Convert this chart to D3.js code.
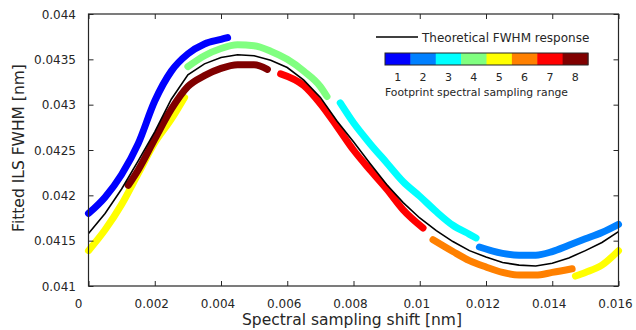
<!DOCTYPE html>
<html>
<head>
<meta charset="utf-8">
<script src="https://cdn.jsdelivr.net/npm/d3@7"></script>
<style>
  body { margin: 0; background: #fff; }
  text { font-family: "DejaVu Sans", sans-serif; fill: #262626; }
</style>
</head>
<body>
<div id="chart"></div>
<script>

// theoretical response (black line)
const theoShift = [0, 0.0005, 0.001, 0.0015, 0.002, 0.0025, 0.003, 0.0035, 0.004, 0.0045, 0.005, 0.0055, 0.006, 0.0065, 0.007, 0.0075, 0.008, 0.0085, 0.009, 0.0095, 0.01, 0.0105, 0.011, 0.0115, 0.012, 0.0125, 0.013, 0.0135, 0.014, 0.0145, 0.015, 0.0155, 0.016];
const theoFwhm = [0.04158, 0.04180, 0.04207, 0.04238, 0.04270, 0.04306, 0.04333, 0.04345, 0.04352, 0.04355, 0.04354, 0.04349, 0.04341, 0.04327, 0.04308, 0.04282, 0.04259, 0.04235, 0.04212, 0.04192, 0.04175, 0.04161, 0.04149, 0.04139, 0.04132, 0.04126, 0.04123, 0.04122, 0.04125, 0.04131, 0.04139, 0.04148, 0.04160];

// fitted FWHM per footprint sampling range
const r1Shift = [0, 0.0005, 0.001, 0.0015, 0.002, 0.0025, 0.003, 0.0035, 0.004, 0.0042];
const r1Fwhm = [0.04180, 0.04198, 0.04223, 0.04257, 0.04304, 0.04337, 0.04356, 0.04367, 0.04372, 0.04374];

const r2Shift = [0.0118, 0.0125, 0.013, 0.0135, 0.014, 0.0145, 0.015, 0.0155, 0.016];
const r2Fwhm = [0.04143, 0.04136, 0.04134, 0.04134, 0.04138, 0.04145, 0.04152, 0.04159, 0.04168];

const r3Shift = [0.0076, 0.008, 0.0085, 0.009, 0.0095, 0.01, 0.0105, 0.011, 0.0115, 0.0117];
const r3Fwhm = [0.04302, 0.04280, 0.04257, 0.04236, 0.04215, 0.04199, 0.04182, 0.04167, 0.04157, 0.04153];

const r4Shift = [0.003, 0.0035, 0.004, 0.0045, 0.005, 0.0055, 0.006, 0.0065, 0.007, 0.0072];
const r4Fwhm = [0.04342, 0.04354, 0.04362, 0.04366, 0.04365, 0.04359, 0.04350, 0.04337, 0.04320, 0.04309];

const r5aShift = [0, 0.0005, 0.001, 0.0015, 0.002, 0.0025, 0.0029];
const r5aFwhm = [0.04139, 0.04162, 0.04190, 0.04224, 0.04258, 0.04284, 0.04308];
const r5bShift = [0.0147, 0.015, 0.0155, 0.016];
const r5bFwhm = [0.04111, 0.04115, 0.04123, 0.04139];

const r6Shift = [0.0104, 0.011, 0.0115, 0.012, 0.0125, 0.013, 0.0135, 0.014, 0.0146];
const r6Fwhm = [0.04151, 0.04138, 0.04128, 0.04121, 0.04115, 0.04112, 0.04112, 0.04115, 0.04119];

const r7Shift = [0.0058, 0.0065, 0.007, 0.0075, 0.008, 0.0085, 0.009, 0.0095, 0.0101];
const r7Fwhm = [0.04334, 0.04321, 0.04301, 0.04276, 0.04250, 0.04228, 0.04207, 0.04184, 0.04164];

const r8Shift = [0.0012, 0.0015, 0.002, 0.0025, 0.003, 0.0035, 0.004, 0.0045, 0.005, 0.0054];
const r8Fwhm = [0.04211, 0.04228, 0.04262, 0.04295, 0.04320, 0.04332, 0.04340, 0.04344, 0.04344, 0.04339];

const rangeLabels = ["1", "2", "3", "4", "5", "6", "7", "8"];
const rangeColors = ["#0000ff", "#0080ff", "#00ffff", "#80ff80", "#ffff00", "#ff8000", "#ff0000", "#800000"];

const xTicks = [0, 0.002, 0.004, 0.006, 0.008, 0.01, 0.012, 0.014, 0.016];
const xTickLabels = ["0", "0.002", "0.004", "0.006", "0.008", "0.01", "0.012", "0.014", "0.016"];
const yTicks = [0.041, 0.0415, 0.042, 0.0425, 0.043, 0.0435, 0.044];
const yTickLabels = ["0.041", "0.0415", "0.042", "0.0425", "0.043", "0.0435", "0.044"];

const w = 636;
const h = 330;
const padL = 88.5, padR = 618.5, padT = 14, padB = 286;

const xScale = d3.scaleLinear().domain([0, 0.016]).range([padL, padR]);
const yScale = d3.scaleLinear().domain([0.041, 0.044]).range([padB, padT]);

const svg = d3.select("#chart")
	.append("svg")
	.attr("width", w)
	.attr("height", h);

const line = d3.line()
	.x(d => xScale(d[0]))
	.y(d => yScale(d[1]));

const smoothLine = d3.line()
	.x(d => xScale(d[0]))
	.y(d => yScale(d[1]))
	.curve(d3.curveMonotoneX);

const segments = [
	[r1Shift, r1Fwhm, 0],
	[r2Shift, r2Fwhm, 1],
	[r3Shift, r3Fwhm, 2],
	[r4Shift, r4Fwhm, 3],
	[r5aShift, r5aFwhm, 4],
	[r5bShift, r5bFwhm, 4],
	[r6Shift, r6Fwhm, 5],
	[r7Shift, r7Fwhm, 6],
	[r8Shift, r8Fwhm, 7]
];

svg.append("g")
	.selectAll("path")
	.data(segments)
	.enter()
	.append("path")
	.attr("d", s => smoothLine(d3.zip(s[0], s[1])))
	.attr("fill", "none")
	.attr("stroke", s => rangeColors[s[2]])
	.attr("stroke-width", 7)
	.attr("stroke-linecap", "round")
	.attr("stroke-linejoin", "round");

svg.append("path")
	.attr("d", line(d3.zip(theoShift, theoFwhm)))
	.attr("fill", "none")
	.attr("stroke", "#000")
	.attr("stroke-width", 1.6);

// Axes (box with inward ticks)

const tickLen = 5;
const axisColor = "#262626";

const bottomAxis = svg.append("g")
	.attr("transform", `translate(0, ${padB})`)
	.call(d3.axisBottom(xScale).tickValues(xTicks).tickSize(-tickLen).tickFormat(""));
const topAxis = svg.append("g")
	.attr("transform", `translate(0, ${padT})`)
	.call(d3.axisTop(xScale).tickValues(xTicks).tickSize(-tickLen).tickFormat(""));
const leftAxis = svg.append("g")
	.attr("transform", `translate(${padL}, 0)`)
	.call(d3.axisLeft(yScale).tickValues(yTicks).tickSize(-tickLen).tickFormat(""));
const rightAxis = svg.append("g")
	.attr("transform", `translate(${padR}, 0)`)
	.call(d3.axisRight(yScale).tickValues(yTicks).tickSize(-tickLen).tickFormat(""));

[bottomAxis, topAxis, leftAxis, rightAxis].forEach(a => {
	a.selectAll("path, line").attr("stroke", axisColor).attr("stroke-width", 1);
	a.select(".domain").remove();
});

svg.append("rect")
	.attr("x", padL)
	.attr("y", padT)
	.attr("width", padR - padL)
	.attr("height", padB - padT)
	.attr("fill", "none")
	.attr("stroke", axisColor)
	.attr("stroke-width", 1.2);

svg.append("g")
	.selectAll("text")
	.data(xTicks)
	.enter()
	.append("text")
	.attr("x", (d, i) => xScale(d) - (i === 0 ? 10 : 3))
	.attr("y", 308)
	.attr("text-anchor", "middle")
	.style("font-size", "12px")
	.text((d, i) => xTickLabels[i]);

svg.append("g")
	.selectAll("text")
	.data(yTicks)
	.enter()
	.append("text")
	.attr("x", 76)
	.attr("y", d => yScale(d) + 4.5)
	.attr("text-anchor", "end")
	.style("font-size", "12px")
	.text((d, i) => yTickLabels[i]);

svg.append("text")
	.text("Spectral sampling shift [nm]")
	.attr("x", 352)
	.attr("y", 325)
	.attr("text-anchor", "middle")
	.style("font-size", "15.5px");

svg.append("text")
	.text("Fitted ILS FWHM [nm]")
	.attr("transform", "translate(24, 148) rotate(-90)")
	.attr("text-anchor", "middle")
	.style("font-size", "15.5px");

// Legend

svg.append("line")
	.attr("x1", 376).attr("x2", 418)
	.attr("y1", 37).attr("y2", 37)
	.attr("stroke", "#000")
	.attr("stroke-width", 1.6);

svg.append("text")
	.text("Theoretical FWHM response")
	.attr("x", 422)
	.attr("y", 42)
	.style("font-size", "12px");

const barX = d3.scaleBand().domain(rangeLabels).range([385, 588]);

svg.append("g")
	.selectAll("rect")
	.data(rangeLabels)
	.enter()
	.append("rect")
	.attr("x", d => barX(d))
	.attr("y", 53)
	.attr("width", barX.bandwidth() + 0.5)
	.attr("height", 12)
	.attr("fill", (d, i) => rangeColors[i]);

svg.append("rect")
	.attr("x", 385).attr("y", 53)
	.attr("width", 203).attr("height", 12)
	.attr("fill", "none")
	.attr("stroke", axisColor)
	.attr("stroke-width", 1);

svg.append("g")
	.selectAll("text")
	.data(rangeLabels)
	.enter()
	.append("text")
	.attr("x", d => barX(d) + barX.bandwidth() / 2)
	.attr("y", 81)
	.attr("text-anchor", "middle")
	.style("font-size", "11px")
	.text(d => d);

svg.append("text")
	.text("Footprint spectral sampling range")
	.attr("x", 385)
	.attr("y", 96)
	.style("font-size", "10.8px");

</script>
</body>
</html>
